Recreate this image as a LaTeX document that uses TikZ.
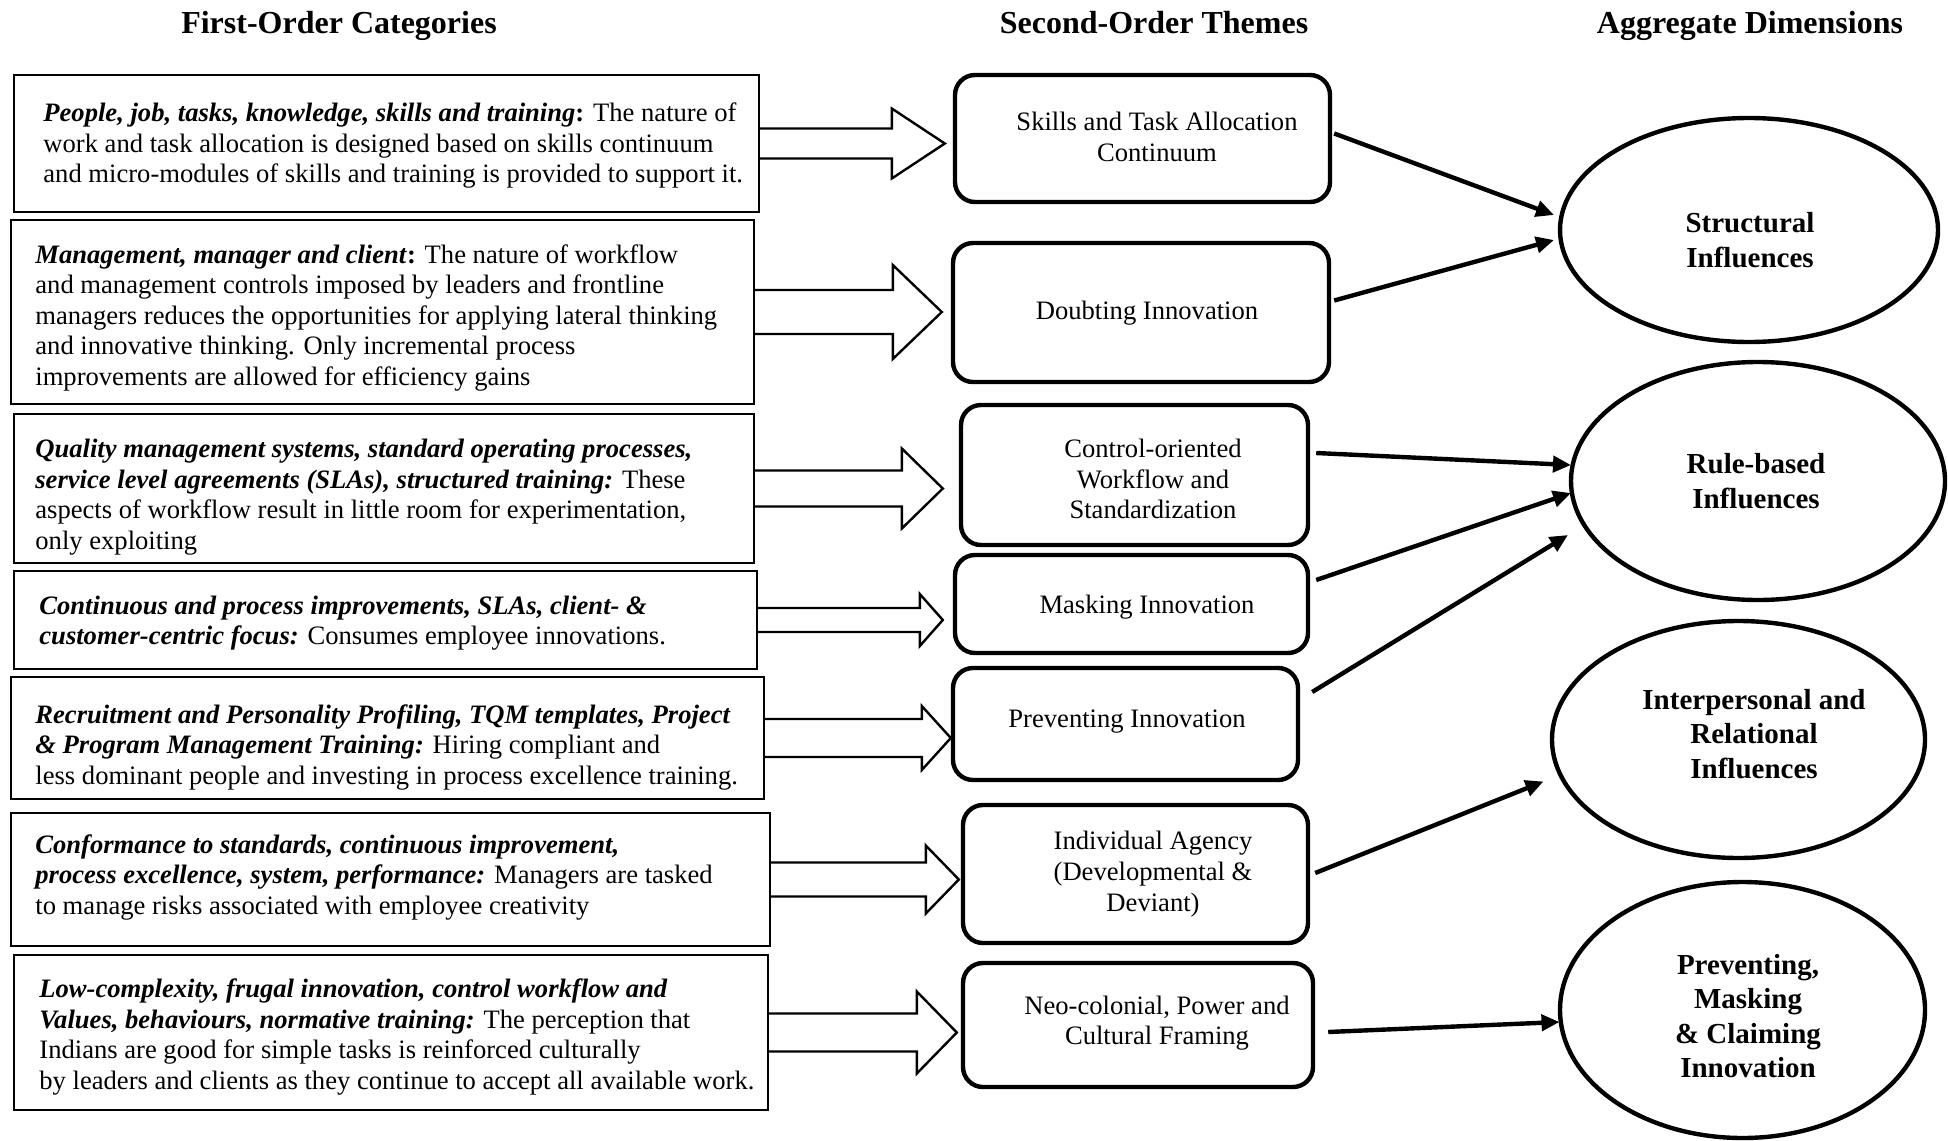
\documentclass[tikz,border=0pt]{standalone}
\usepackage{fontspec}
\setmainfont{Liberation Serif}
\usetikzlibrary{arrows.meta,shapes.geometric,calc}
\newcommand\blockarrow[6]{% #1 from, #2 to, #3 shaft half, #4 head half, #5 head length, #6 gap (px)
  \draw[blockarr] let \p1=(#1.east), \p2=(#2.west) in
    (\x1,{\y1+(#3)*0.5pt}) -- ({\x2-(#6+#5)*0.5pt},{\y1+(#3)*0.5pt})
    -- ({\x2-(#6+#5)*0.5pt},{\y1+(#4)*0.5pt}) -- ({\x2-(#6)*0.5pt},\y1)
    -- ({\x2-(#6+#5)*0.5pt},{\y1-(#4)*0.5pt}) -- ({\x2-(#6+#5)*0.5pt},{\y1-(#3)*0.5pt})
    -- (\x1,{\y1-(#3)*0.5pt});}
\begin{document}
\begin{tikzpicture}[x=0.5pt,y=-0.5pt,
  lbox/.style={draw, line width=1.2pt, inner sep=0pt},
  sbox/.style={draw, line width=2.2pt, rounded corners=10pt, inner sep=0pt},
  ebox/.style={draw, ellipse, line width=2.2pt, inner sep=0pt},
  ltext/.style={anchor=west, align=left, inner sep=0pt, font=\fontsize{13.3}{15.25}\selectfont},
  stext/.style={align=center, inner sep=0pt, font=\fontsize{13.3}{15.3}\selectfont},
  etext/.style={align=center, inner sep=0pt, font=\fontsize{14.5}{17.3}\selectfont\bfseries},
  head/.style={anchor=base, inner sep=0pt, font=\fontsize{16}{19}\selectfont\bfseries},
  blockarr/.style={draw, line width=1.2pt, line join=miter},
  conn/.style={line width=2.2pt, -{Triangle[length=9pt,width=8pt]}}]
\useasboundingbox (0,0) rectangle (1948,1140);

% headers
\node[head] (H1) at (339,33) {First-Order Categories};
\node[head] (H2) at (1154,33) {Second-Order Themes};
\node[head] (H3) at (1750,33) {Aggregate Dimensions};

% first-order boxes
\node[lbox, minimum width=372.5pt, minimum height=68.5pt] (L1) at (386.5,143.5) {};
\node[lbox, minimum width=371.5pt, minimum height=92pt]   (L2) at (382.5,312) {};
\node[lbox, minimum width=370pt,   minimum height=74.5pt] (L3) at (384,488.5) {};
\node[lbox, minimum width=371.5pt, minimum height=49pt]   (L4) at (385.5,620) {};
\node[lbox, minimum width=376.5pt, minimum height=61pt]   (L5) at (387.5,738) {};
\node[lbox, minimum width=379.5pt, minimum height=66.5pt] (L6) at (390.5,879.5) {};
\node[lbox, minimum width=377pt,   minimum height=77.5pt] (L7) at (391,1032.5) {};

\node[ltext] (T1) at (43,146) {\textbf{\textit{People, job, tasks, knowledge, skills and training}:} The nature of\\
work and task allocation is designed based on skills continuum\\
and micro-modules of skills and training is provided to support it.};
\node[ltext] (T2) at (35,318) {\textbf{\textit{Management, manager and client}:} The nature of workflow\\
and management controls imposed by leaders and frontline\\
managers reduces the opportunities for applying lateral thinking\\
and innovative thinking. Only incremental process\\
improvements are allowed for efficiency gains};
\node[ltext] (T3) at (35,497) {\textbf{\textit{Quality management systems, standard operating processes,}}\\
\textbf{\textit{service level agreements (SLAs), structured training:}} These\\
aspects of workflow result in little room for experimentation,\\
only exploiting};
\node[ltext] (T4) at (39,623) {\textbf{\textit{Continuous and process improvements, SLAs, client- \&}}\\
\textbf{\textit{customer-centric focus:}} Consumes employee innovations.};
\node[ltext] (T5) at (35,747) {\textbf{\textit{Recruitment and Personality Profiling, TQM templates, Project}}\\
\textbf{\textit{\& Program Management Training:}} Hiring compliant and\\
less dominant people and investing in process excellence training.};
\node[ltext] (T6) at (35,877) {\textbf{\textit{Conformance to standards, continuous improvement,}}\\
\textbf{\textit{process excellence, system, performance:}} Managers are tasked\\
to manage risks associated with employee creativity};
\node[ltext] (T7) at (39,1037) {\textbf{\textit{Low-complexity, frugal innovation, control workflow and}}\\
\textbf{\textit{Values, behaviours, normative training:}} The perception that\\
Indians are good for simple tasks is reinforced culturally\\
by leaders and clients as they continue to accept all available work.};

% second-order boxes
\node[sbox, minimum width=187.5pt, minimum height=63.5pt] (S1) at (1142.5,138.5) {};
\node[sbox, minimum width=188pt,   minimum height=69.5pt] (S2) at (1141,312.5) {};
\node[sbox, minimum width=173.5pt, minimum height=70pt]   (S3) at (1134.5,475) {};
\node[sbox, minimum width=176.5pt, minimum height=49pt]   (S4) at (1131.5,604) {};
\node[sbox, minimum width=172.5pt, minimum height=56pt]   (S5) at (1125.5,724) {};
\node[sbox, minimum width=172.5pt, minimum height=69pt]   (S6) at (1135.5,874) {};
\node[sbox, minimum width=175pt,   minimum height=62pt]   (S7) at (1138,1025) {};

\node[stext] (U1) at (1157,137) {Skills and Task Allocation\\Continuum};
\node[stext] (U2) at (1147,313) {Doubting Innovation};
\node[stext] (U3) at (1153,479) {Control-oriented\\Workflow and\\Standardization};
\node[stext] (U4) at (1147,607) {Masking Innovation};
\node[stext] (U5) at (1127,722) {Preventing Innovation};
\node[stext] (U6) at (1153,874) {Individual Agency\\(Developmental \&\\Deviant)};
\node[stext] (U7) at (1157,1023) {Neo-colonial, Power and\\Cultural Framing};

% aggregate dimensions
\node[ebox, minimum width=189pt,   minimum height=112pt]   (E1) at (1749,230) {};
\node[ebox, minimum width=187pt,   minimum height=119pt]   (E2) at (1758,481) {};
\node[ebox, minimum width=186.5pt, minimum height=118.5pt] (E3) at (1738.5,739.5) {};
\node[ebox, minimum width=182.5pt, minimum height=128pt]   (E4) at (1742.5,1010) {};

\node[etext] (V1) at (1750,240) {Structural\\Influences};
\node[etext] (V2) at (1756,481) {Rule-based\\Influences};
\node[etext] (V3) at (1754,734) {Interpersonal and\\Relational\\Influences};
\node[etext] (V4) at (1748,1016) {Preventing,\\Masking\\\& Claiming\\Innovation};

% block arrows
\blockarrow{L1}{S1}{15}{35}{53}{8}
\blockarrow{L2}{S2}{22}{47}{49}{9}
\blockarrow{L3}{S3}{18}{40}{41}{16}
\blockarrow{L4}{S4}{12}{26}{23}{10}
\blockarrow{L5}{S5}{19}{32}{29}{0}
\blockarrow{L6}{S6}{17}{34}{33}{2}
\blockarrow{L7}{S7}{19}{41}{40}{4}

% connectors
\draw[conn] ($(S1.east)+(2,-5)$)   -- ($(E1.center)+(-195,-15)$);
\draw[conn] ($(S2.east)+(3,-12)$)  -- ($(E1.center)+(-195,10)$);
\draw[conn] ($(S3.east)+(6,-22)$)  -- ($(E2.center)+(-187,-16)$);
\draw[conn] ($(S4.east)+(6,-24)$)  -- ($(E2.center)+(-187,12)$);
\draw[conn] ($(S5.east)+(12,-32)$) -- ($(E2.center)+(-190,54)$);
\draw[conn] ($(S6.east)+(5,-1)$)   -- ($(E3.center)+(-195,42)$);
\draw[conn] ($(S7.east)+(13,7)$)   -- ($(E4.center)+(-183,12)$);
\end{tikzpicture}
\end{document}
